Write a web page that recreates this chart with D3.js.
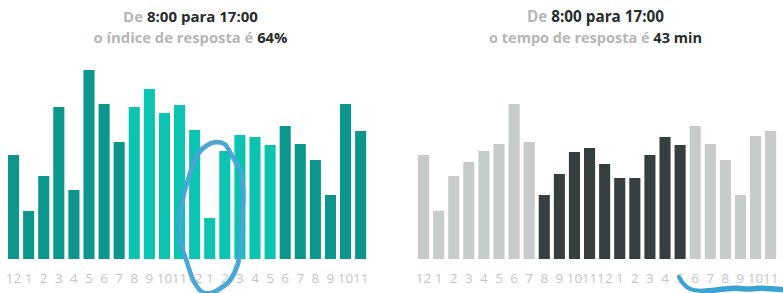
<!DOCTYPE html>
<html>
<head>
<meta charset="utf-8">
<script src="https://cdn.jsdelivr.net/npm/d3@7"></script>
<style>
  html, body { margin: 0; padding: 0; background: #fff; }
  svg { display: block; }
  .ttl { font-family: "Open Sans", "Lato", sans-serif; font-weight: 700; }
  .tick text { font-family: "Open Sans", "Noto Sans", sans-serif; font-size: 13.5px; fill: #c6c6c6; }
</style>
</head>
<body>
<svg id="chart" width="783" height="293"></svg>
<script>
// ---- data ----
const hours = ["12","1","2","3","4","5","6","7","8","9","10","11",
               "12","1","2","3","4","5","6","7","8","9","10","11"];
const responseRate = [104, 48, 83, 152, 69, 189, 155, 117, 152, 170, 146, 154,
                      129, 41, 108, 124, 122, 114, 133, 115, 99, 64, 155, 128];
const responseTime = [104, 48, 83, 97, 108, 115, 155, 117, 64, 85, 107, 111,
                      95, 81, 81, 104, 122, 114, 133, 115, 99, 64, 123, 128];
const workStart = 8, workEnd = 17;   // highlighted hours (indices)
const titleLeft = [["De ", false], ["8:00 para 17:00", true]];
const titleLeft2 = [["o índice de resposta é ", false], ["64%", true]];
const titleRight = [["De ", false], ["8:00 para 17:00", true]];
const titleRight2 = [["o tempo de resposta é ", false], ["43 min", true]];

const svg = d3.select("#chart");
const idx = d3.range(hours.length);
const y = d3.scaleLinear().domain([0, 190]).range([259, 69]);

function addTitle(parts, cx, yy, targetW) {
  const t = svg.append("text").attr("class", "ttl").attr("x", cx).attr("y", yy)
    .attr("text-anchor", "middle").style("font-size", "14px");
  parts.forEach(([s, strong]) => t.append("tspan").text(s).attr("fill", strong ? "#262c2c" : "#b6b6b6"));
  const w = t.node().getComputedTextLength();
  const fs = Math.max(12, Math.min(16, 14 * targetW / w));
  t.style("font-size", fs + "px");
}

function panel(x0, x1, values, colIn, colOut, t1, t2, cx, w1, w2) {
  const x = d3.scaleBand().domain(idx).range([x0, x1]).paddingInner(0.265).paddingOuter(0.1325);
  const g = svg.append("g");
  g.selectAll("rect").data(values).join("rect")
    .attr("x", (d, i) => x(i))
    .attr("width", x.bandwidth())
    .attr("y", d => y(d))
    .attr("height", d => y(0) - y(d))
    .attr("fill", (d, i) => (i >= workStart && i <= workEnd) ? colIn : colOut);

  const axis = d3.axisBottom(x).tickSize(0).tickPadding(0).tickFormat(i => hours[i]);
  const ax = svg.append("g").attr("transform", "translate(0,283)").call(axis);
  ax.select(".domain").remove();
  ax.selectAll("text").attr("dy", "0");

  addTitle(t1, cx, 22, w1);
  addTitle(t2, cx, 43, w2);
  return x;
}

const xl = panel(6, 368.2, responseRate, "#0bc4b2", "#0d968b", titleLeft, titleLeft2, 190.5, 135, 194);
const xr = panel(416, 778.2, responseTime, "#363f3f", "#c8cbcb", titleRight, titleRight2, 595.5, 137, 213);

// ---- hand-drawn annotations ----
const cx = xl(13) + xl.bandwidth() / 2 + 2, cy = 218;
const ringOffsets = [0, 1, -1, 2, 1, -1, 0, 2, 1, -2, -1, 1, 0, -1, 2, 1, 0, -1, 1, 0];
const ringPts = ringOffsets.map((o, k) => {
  const a = k / ringOffsets.length * 2 * Math.PI - Math.PI / 2;
  const rx = 31 + o * 0.8, ry = 76 + o;
  return [cx + rx * Math.cos(a) - 4 * Math.sin(a) * (Math.sin(a) < 0 ? 1 : 0.2), cy + ry * Math.sin(a)];
});
const closed = d3.line().curve(d3.curveCardinalClosed.tension(0.2));
svg.append("path").attr("d", closed(ringPts)).attr("fill", "none")
  .attr("stroke", "#45a3d3").attr("stroke-width", 4.5).attr("opacity", 0.95);
svg.append("path").attr("d", closed(ringPts.map(([a, b]) => [a + 1, b + 0.8]))).attr("fill", "none")
  .attr("stroke", "#4aa8d6").attr("stroke-width", 3).attr("opacity", 0.8);

const squig = [[679, 277], [683, 284], [690, 290], [700, 291], [712, 290], [725, 288], [738, 287],
               [748, 289], [758, 287], [770, 288], [783, 289]];
const open = d3.line().curve(d3.curveBasis);
svg.append("path").attr("d", open(squig)).attr("fill", "none")
  .attr("stroke", "#3ba2d4").attr("stroke-width", 4).attr("stroke-linecap", "round");
svg.append("path").attr("d", open(squig.slice(3).map(([a, b]) => [a, b + 2]))).attr("fill", "none")
  .attr("stroke", "#3ba2d4").attr("stroke-width", 3);
</script>
</body>
</html>
